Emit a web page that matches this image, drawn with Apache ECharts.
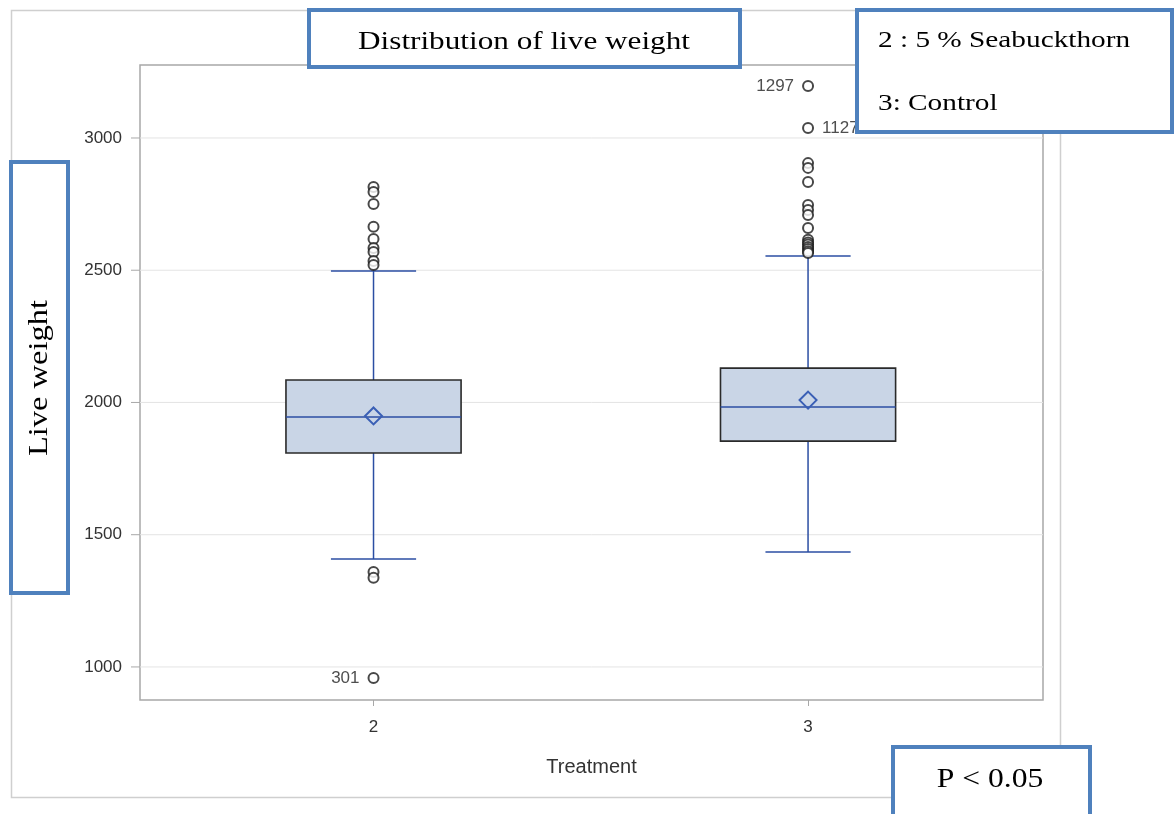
<!DOCTYPE html>
<html>
<head>
<meta charset="utf-8">
<script src="https://cdn.jsdelivr.net/npm/echarts@6/dist/echarts.min.js"></script>
<style>
  html, body { margin: 0; padding: 0; background: #fff; }
  #chart { width: 1175px; height: 814px; }
</style>
</head>
<body>
<div id="chart"></div>
<script>
// treatment groups
var categories = ['2', '3'];
// box statistics per group
var lowWhisker = [1408, 1435];
var q1 = [1809, 1854];
var median = [1945, 1983];
var q3 = [2085, 2130];
var highWhisker = [2497, 2554];
var means = [1949, 2009];
// outliers per group
var outliers2 = [2815, 2796, 2750, 2664, 2618, 2584, 2569, 2535, 2520, 1359, 1337, 958];
var outliers3 = [3197, 3038, 2905, 2887, 2834, 2747, 2728, 2709, 2660, 2615, 2605, 2597, 2588, 2580, 2572, 2565];
// labelled outliers (obs number)
var outlierLabels = { '958': '301', '3197': '1297', '3038': '1127' };
var yTicks = [1000, 1500, 2000, 2500, 3000];

var chart = echarts.init(document.getElementById('chart'));

var boxData = categories.map(function (c, i) {
    return [i, lowWhisker[i], q1[i], median[i], q3[i], highWhisker[i], means[i]];
});

var sans = 'Liberation Sans, Arial, sans-serif';

function outlierPoint(idx, v) {
    var item = { value: [idx, v] };
    var lab = outlierLabels[String(v)];
    if (lab) {
        item.label = {
            show: true,
            formatter: lab,
            // 1127 sits right of its marker, the others left
            position: lab === '1127' ? 'right' : 'left',
            distance: 8,
            color: '#222',
            fontSize: 17,
            fontFamily: sans
        };
    }
    return item;
}
var outlierData = outliers2.map(function (v) { return outlierPoint(0, v); })
    .concat(outliers3.map(function (v) { return outlierPoint(1, v); }));

var blue = '#2b4ea3';

function renderBox(params, api) {
    var x = api.value(0);
    var unit = api.size([1, 0])[0];
    var bw = unit * 0.403 / 2;
    var cw = unit * 0.196 / 2;
    var pLow = api.coord([x, api.value(1)]);
    var pQ1 = api.coord([x, api.value(2)]);
    var pMed = api.coord([x, api.value(3)]);
    var pQ3 = api.coord([x, api.value(4)]);
    var pHigh = api.coord([x, api.value(5)]);
    var pMean = api.coord([x, api.value(6)]);
    var cx = pMed[0];
    var lineStyle = { stroke: blue, lineWidth: 1.5 };
    var d = 8.5;
    return {
        type: 'group',
        children: [
            { type: 'line', shape: { x1: cx, y1: pHigh[1], x2: cx, y2: pQ3[1] }, style: lineStyle },
            { type: 'line', shape: { x1: cx, y1: pQ1[1], x2: cx, y2: pLow[1] }, style: lineStyle },
            { type: 'line', shape: { x1: cx - cw, y1: pHigh[1], x2: cx + cw, y2: pHigh[1] }, style: lineStyle },
            { type: 'line', shape: { x1: cx - cw, y1: pLow[1], x2: cx + cw, y2: pLow[1] }, style: lineStyle },
            { type: 'rect', shape: { x: cx - bw, y: pQ3[1], width: bw * 2, height: pQ1[1] - pQ3[1] },
              style: { fill: '#c9d5e6', stroke: '#2a2a2a', lineWidth: 1.6 } },
            { type: 'line', shape: { x1: cx - bw, y1: pMed[1], x2: cx + bw, y2: pMed[1] }, style: lineStyle },
            { type: 'polygon', shape: { points: [[cx, pMean[1] - d], [cx + d, pMean[1]], [cx, pMean[1] + d], [cx - d, pMean[1]]] },
              style: { fill: 'none', stroke: '#3a5fb5', lineWidth: 2 } }
        ]
    };
}

var serif = 'Liberation Serif, Times New Roman, serif';

chart.setOption({
    backgroundColor: '#fff',
    animation: false,
    grid: {
        left: 140, right: 132, top: 65, bottom: 114,
        show: true, borderColor: '#a8a8a8', borderWidth: 1.5
    },
    xAxis: {
        type: 'value',
        min: -0.5374,
        max: 1.5407,
        name: 'Treatment',
        nameLocation: 'middle',
        nameGap: 57,
        nameTextStyle: { color: '#333', fontSize: 20, fontFamily: sans },
        axisLine: { show: false },
        axisTick: { show: true, length: 6, customValues: [0, 1], lineStyle: { color: '#a8a8a8' } },
        axisLabel: {
            customValues: [0, 1], margin: 19, color: '#333', fontSize: 17, fontFamily: sans,
            formatter: function (v) { return categories[Math.round(v)]; }
        },
        splitLine: { show: false }
    },
    yAxis: {
        type: 'value',
        min: 875,
        max: 3276,
        axisLine: { show: false },
        axisTick: { show: false },
        axisLabel: { customValues: yTicks, margin: 18, color: '#333', fontSize: 17, fontFamily: sans,
                     formatter: function (v) { return String(v); } },
        splitLine: { show: false }
    },
    series: [
        {
            // horizontal reference lines and left ticks at the labelled values
            type: 'custom',
            renderItem: function (params, api) {
                var p = api.coord([-0.5374, api.value(0)]);
                var q = api.coord([1.5407, api.value(0)]);
                return {
                    type: 'group',
                    children: [
                        { type: 'line', shape: { x1: p[0], y1: p[1], x2: q[0], y2: q[1] },
                          style: { stroke: '#e4e4e4', lineWidth: 1 } },
                        { type: 'line', shape: { x1: p[0] - 9, y1: p[1], x2: p[0], y2: p[1] },
                          style: { stroke: '#a8a8a8', lineWidth: 1 } }
                    ]
                };
            },
            encode: { y: 0 },
            data: yTicks.map(function (v) { return [v]; }),
            clip: false,
            silent: true,
            z: 1
        },
        {
            type: 'custom',
            renderItem: renderBox,
            encode: { x: 0, y: [1, 2, 3, 4, 5, 6] },
            data: boxData,
            z: 2
        },
        {
            type: 'scatter',
            symbol: 'emptyCircle',
            symbolSize: 10,
            itemStyle: { color: '#1a1a1a', borderWidth: 1.6 },
            data: outlierData,
            z: 3
        }
    ],
    graphic: [
        { type: 'rect', z: -1, shape: { x: 11.5, y: 10.5, width: 1049, height: 787 },
          style: { fill: 'none', stroke: '#cfcfcf', lineWidth: 1.5 } },
        // title box
        { type: 'rect', z: 100, shape: { x: 309, y: 10, width: 431, height: 57 },
          style: { fill: '#fff', stroke: '#4f81bd', lineWidth: 4 } },
        { type: 'text', z: 101, x: 524, y: 42, scaleX: 1.2,
          style: { text: 'Distribution of live weight', fill: '#000', font: '26px ' + serif, textAlign: 'center', textVerticalAlign: 'middle' } },
        // legend box
        { type: 'rect', z: 100, shape: { x: 857, y: 10, width: 315, height: 122 },
          style: { fill: '#fff', stroke: '#4f81bd', lineWidth: 4 } },
        { type: 'text', z: 101, x: 878, y: 41, scaleX: 1.22,
          style: { text: '2 : 5 % Seabuckthorn', fill: '#000', font: '24px ' + serif, textVerticalAlign: 'middle' } },
        { type: 'text', z: 101, x: 878, y: 104, scaleX: 1.22,
          style: { text: '3: Control', fill: '#000', font: '24px ' + serif, textVerticalAlign: 'middle' } },
        // y axis label box
        { type: 'rect', z: 100, shape: { x: 11, y: 162, width: 57, height: 431 },
          style: { fill: '#fff', stroke: '#4f81bd', lineWidth: 4 } },
        { type: 'text', z: 101, x: 40, y: 378, rotation: Math.PI / 2, scaleX: 1.16,
          style: { text: 'Live weight', fill: '#000', font: '28px ' + serif, textAlign: 'center', textVerticalAlign: 'middle' } },
        // p value box
        { type: 'rect', z: 100, shape: { x: 893, y: 747, width: 197, height: 80 },
          style: { fill: '#fff', stroke: '#4f81bd', lineWidth: 4 } },
        { type: 'text', z: 101, x: 990, y: 780, scaleX: 1.17,
          style: { text: 'P < 0.05', fill: '#000', font: '27px ' + serif, textAlign: 'center', textVerticalAlign: 'middle' } }
    ]
});
</script>
</body>
</html>
